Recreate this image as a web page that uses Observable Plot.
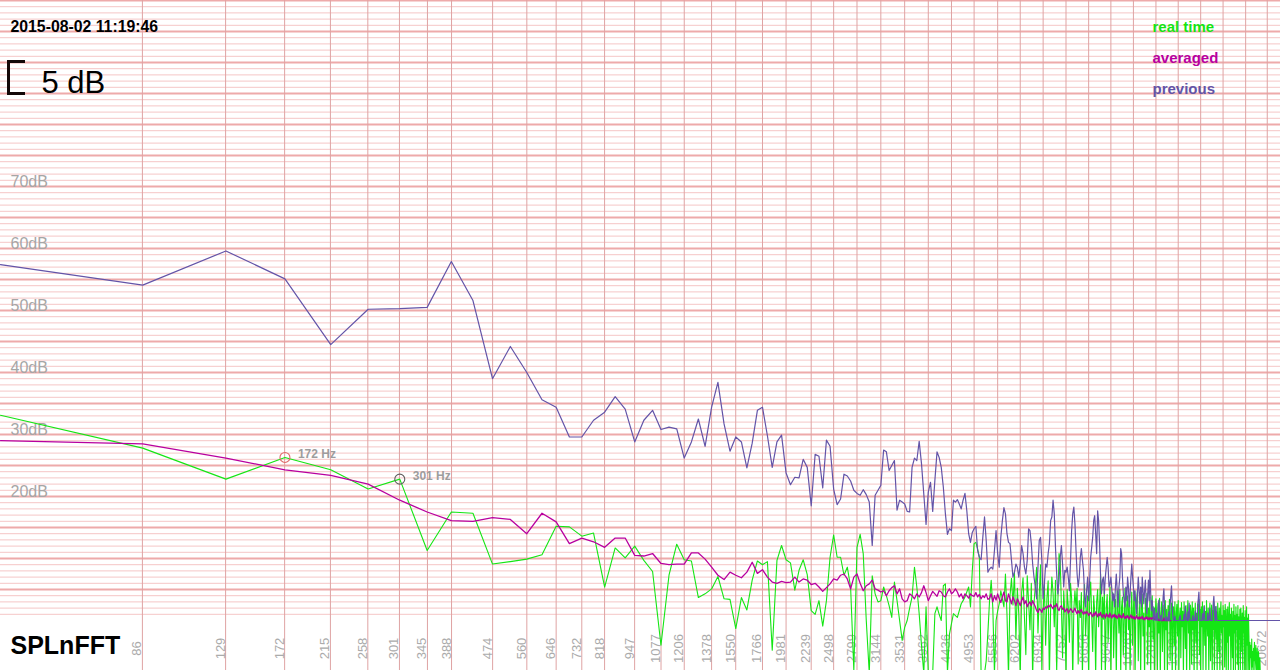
<!DOCTYPE html>
<html>
<head>
<meta charset="utf-8">
<script src="https://cdn.jsdelivr.net/npm/d3@7"></script>
<script src="https://cdn.jsdelivr.net/npm/@observablehq/plot@0.6"></script>
<style>
  body { margin: 0; overflow: hidden; background: #fff; }
  #wrap { position: relative; width: 1280px; height: 670px; overflow: hidden; }
  #bracket { position: absolute; left: 7px; top: 60px; width: 18px; height: 35px; box-sizing: border-box;
             border: 3.5px solid #140808; border-right: none; z-index: 2; }
</style>
</head>
<body>
<div id="wrap"><div id="bracket"></div></div>
<script>
// FFT bin width (44.1 kHz, 1024-point FFT); arrays below hold one value per bin, starting at bin 1
const binHz = 44100 / 1024;

// frequency tick labels (Hz)
const freqTicks = [86, 129, 172, 215, 258, 301, 345, 388, 474, 560, 646, 732, 818, 947, 1077, 1206, 1378, 1550,
  1766, 1981, 2239, 2498, 2799, 3144, 3531, 3962, 4436, 4953, 5556, 6202, 6934, 7752, 8656, 9647, 10767,
  12016, 13394, 14944, 16667, 18605, 20672];

// dB labels
const dbLabels = [20, 30, 40, 50, 60, 70];

// series names / colours
const seriesNames = ["real time", "averaged", "previous"];
const seriesColors = ["#14e614", "#b8009f", "#6354a8"];

// "previous" spectrum (dB), bins 1..511
const previous = [
  57.4, 54.1, 59.6, 55.1, 44.5, 50.2, 50.3, 50.5, 57.9, 51.6,
  39.0, 44.2, 40.0, 35.6, 34.4, 29.6, 29.6, 32.3, 33.6, 36.1,
  34.1, 28.8, 32.3, 33.9, 30.8, 31.2, 30.9, 26.2, 28.8, 32.5,
  28.1, 34.4, 38.4, 31.7, 27.3, 29.6, 28.8, 24.6, 28.6, 33.9,
  34.4, 29.8, 24.7, 28.8, 29.9, 23.8, 21.9, 23.1, 23.0, 26.0,
  24.7, 18.5, 26.8, 26.5, 21.4, 29.1, 28.1, 21.2, 18.7, 19.6,
  23.6, 23.3, 22.5, 21.0, 20.5, 20.2, 21.1, 20.3, 19.1, 12.1,
  20.2, 21.0, 21.8, 27.5, 27.2, 24.2, 25.0, 25.8, 17.8, 19.4,
  19.1, 18.8, 17.6, 17.5, 24.7, 26.2, 25.8, 28.9, 25.3, 20.4,
  15.5, 20.7, 22.3, 17.6, 22.6, 27.2, 26.3, 24.7, 21.5, 17.2,
  13.9, 14.8, 14.5, 19.4, 19.1, 19.5, 18.8, 18.0, 19.4, 20.5,
  17.7, 14.0, 12.6, 14.2, 14.8, 15.2, 11.3, 10.2, 9.8, 13.4,
  16.7, 12.9, 7.8, 8.3, 8.6, 8.3, 11.3, 14.5, 10.8, 8.6,
  13.4, 16.1, 18.2, 17.2, 14.0, 12.6, 12.4, 9.7, 7.0, 7.8,
  9.1, 8.6, 7.0, 9.1, 12.1, 10.8, 8.6, 7.5, 9.7, 14.8,
  14.5, 12.4, 9.1, 7.0, 5.4, 3.5, 8.6, 12.9, 13.4, 9.7,
  3.5, 5.9, 9.1, 8.6, 10.8, 12.4, 16.1, 16.7, 19.4, 17.2,
  11.8, 7.5, 4.3, 6.5, 10.2, 12.1, 9.1, 5.4, 8.1, 7.8,
  8.6, 7.0, 4.8, 9.7, 14.5, 17.2, 18.3, 15.6, 11.3, 7.5,
  5.4, 7.0, 10.2, 11.6, 9.7, 8.1, 4.3, 2.2, 4.8, 7.0,
  3.2, 6.5, 10.2, 11.8, 13.4, 16.1, 16.9, 14.0, 10.8, 17.7,
  16.1, 12.4, 7.3, 4.3, 6.5, 7.0, 4.3, 7.0, 8.6, 10.2,
  8.6, 5.4, 5.9, 7.0, 5.1, 3.2, 4.3, 2.2, 5.4, 7.5,
  4.8, 2.2, 5.4, 7.0, 11.6, 10.8, 7.0, 4.3, 3.2, 2.2,
  5.4, 3.2, 7.0, 5.4, 2.2, 4.3, 7.0, 9.1, 7.0, 5.4,
  3.2, 4.8, 2.2, 1.1, 4.3, 7.0, 4.8, 2.7, 5.4, 2.2,
  7.0, 4.8, 2.7, 4.8, 6.5, 3.2, 1.1, 4.3, 6.5, 3.2,
  8.1, 4.3, 1.6, 3.2, 1.5, 0, 2.0, 0.5, 0, 1.2,
  0, 2.1, 3.3, 1.0, 0, 0.8, 0, 1.5, 3.8, 5.1,
  2.0, 0, 0, 0.6, 0, 0, 1.4, 0, 2.5, 4.2,
  5.6, 3.0, 0.5, 0, 0, 0.7, 0, 0, 0, 0,
  0, 0, 0.4, 0.8, 0, 0, 0, 0, 0, 1.0,
  0, 2.3, 0.5, 0, 0, 1.4, 0, 2.8, 0.6, 0,
  0, 0, 0, 0.8, 0, 0, 0, 1.5, 0, 0.4,
  0, 2.6, 3.5, 4.6, 2.0, 0, 0, 0, 0, 1.1,
  0, 0.6, 2.3, 0, 0, 0, 0, 0, 1.2, 0,
  0, 0.8, 2.0, 0, 0, 0, 0, 1.6, 2.9, 3.9,
  2.0, 0, 0, 2.3, 0.5, 0, 0, 0, 0, 0,
  0, 0, 0, 0, 0, 0, 0, 0, 0, 0,
  0, 0, 0, 0, 0, 0, 0, 0, 0, 0,
  0, 0, 0, 0, 0, 0, 0, 0, 0, 0,
  0, 0, 0, 0, 0, 0, 0, 0, 0, 0,
  0, 0, 0, 0, 0, 0, 0, 0, 0, 0,
  0, 0, 0, 0, 0, 0, 0, 0, 0, 0,
  0, 0, 0, 0, 0, 0, 0, 0, 0, 0,
  0, 0, 0, 0, 0, 0, 0, 0, 0, 0,
  0, 0, 0, 0, 0, 0, 0, 0, 0, 0,
  0, 0, 0, 0, 0, 0, 0, 0, 0, 0,
  0, 0, 0, 0, 0, 0, 0, 0, 0, 0,
  0, 0, 0, 0, 0, 0, 0, 0, 0, 0,
  0, 0, 0, 0, 0, 0, 0, 0, 0, 0,
  0
];

// "averaged" spectrum (dB), bins 1..300
const averaged = [
  29.0, 28.5, 26.2, 24.3, 23.4, 22.0, 19.4, 17.5, 16.1, 16.0,
  16.6, 16.3, 14.0, 17.3, 15.9, 12.4, 13.3, 12.7, 11.8, 13.3,
  13.3, 10.5, 10.4, 10.8, 9.2, 9.0, 9.1, 9.1, 10.9, 10.9,
  9.9, 8.6, 7.3, 6.6, 7.8, 7.3, 6.9, 7.8, 9.4, 7.6,
  8.2, 7.0, 6.2, 6.0, 6.3, 6.1, 6.2, 7.0, 6.2, 6.7,
  6.5, 5.8, 6.0, 5.4, 4.7, 5.3, 5.9, 6.7, 6.5, 7.3,
  7.5, 6.7, 5.1, 7.0, 7.5, 6.0, 4.8, 5.6, 5.9, 6.5,
  5.1, 4.9, 4.6, 4.8, 4.0, 4.8, 5.3, 5.6, 4.3, 5.1,
  3.5, 3.0, 3.2, 4.3, 4.0, 3.5, 4.3, 3.8, 4.5, 5.6,
  4.5, 3.2, 4.0, 4.7, 4.3, 3.9, 4.8, 4.6, 4.0, 3.8,
  4.6, 5.1, 4.3, 4.6, 5.1, 4.6, 3.8, 4.3, 3.5, 4.3,
  4.0, 3.6, 4.3, 4.0, 3.9, 4.5, 3.8, 4.2, 3.5, 4.0,
  3.7, 4.3, 3.4, 3.6, 4.3, 3.0, 4.0, 3.3, 4.3, 3.5,
  2.9, 3.8, 4.6, 3.2, 3.0, 4.3, 3.5, 2.7, 3.8, 3.2,
  2.4, 3.5, 3.0, 2.4, 3.2, 3.8, 2.7, 3.2, 2.2, 2.7,
  3.0, 2.4, 3.2, 2.7, 2.2, 1.6, 1.3, 1.9, 1.7, 1.3,
  2.0, 1.8, 2.2, 2.0, 2.4, 2.2, 2.6, 2.2, 1.9, 2.4,
  2.2, 2.7, 1.9, 1.6, 2.2, 2.4, 1.8, 2.0, 1.4, 1.7,
  1.9, 1.2, 1.5, 1.9, 1.7, 1.3, 1.6, 2.0, 1.4, 1.1,
  1.6, 1.2, 1.5, 1.8, 1.3, 1.0, 1.4, 1.1, 1.5, 1.2,
  0.8, 1.1, 1.3, 0.9, 0.6, 1.2, 0.8, 1.4, 1.0, 0.6,
  1.1, 0.8, 1.3, 0.7, 0.5, 1.0, 0.8, 0.4, 1.1, 0.7,
  0.9, 0.5, 1.2, 0.7, 0.4, 0.9, 0.6, 1.0, 0.5, 0.8,
  0.3, 0.7, 1.0, 0.5, 0.8, 0.4, 0.6, 1.1, 0.5, 0.3,
  0.7, 0.4, 0.8, 0.5, 0.2, 0.6, 0.9, 0.4, 0.7, 0.3,
  0.6, 0.2, 0.5, 0.8, 0.3, 0.5, 0.2, 0.6, 0.3, 0.4,
  0.7, 0.2, 0.4, 0.1, 0.5, 0.3, 0.6, 0.2, 0.4, 0.1,
  0.5, 0.3, 0.2, 0.5, 0.3, 0.6, 0.2, 0.4, 0.1, 0.3,
  0.5, 0.2, 0, 0, 0.3, 0, 0, 0, 0, 0.4,
  0, 0, 0, 0, 0, 0, 0, 0, 0, 0
];

// "real time" spectrum (dB), bins 1..511 (values below the frame run off the bottom)
const realTime = [
  33.1, 27.8, 22.8, 26.3, 24.3, 21.2, 22.8, 11.3, 17.5, 17.3,
  9.1, 9.5, 9.9, 10.6, 15.2, 15.1, 13.6, 14.1, 5.4, 11.7,
  10.1, 12.0, 9.7, 7.9, -4.0, 7.3, 12.3, 9.8, 9.6, 3.7,
  4.3, 5.1, 7.1, 3.5, 3.4, -1.3, 3.7, 1.7, 6.5, 9.6,
  9.0, 9.5, -4.8, 9.7, 12.1, 9.8, 9.3, 4.9, 8.1, 9.8,
  7.4, 1.6, 1.0, 3.2, -0.9, 3.2, 10.2, 13.8, 10.2, 10.2,
  7.3, 8.6, 5.4, -8.0, 11.8, 13.9, 10.8, 0.0, -8.5, 7.2,
  4.3, 3.0, 3.2, 5.4, 4.0, 2.4, 0.5, 6.2, 3.2, 0.0,
  -3.2, -1.1, 0.0, 2.0, 3.8, 8.6, 5.4, 1.1, -4.0, -8.5,
  2.2, -8.5, -9.0, -8.5, 1.1, 2.2, 1.0, 0.0, 5.6, 5.9,
  -8.5, -2.2, -0.5, 1.1, 0.8, 0.5, 1.6, 2.7, 3.2, 3.8,
  4.6, 5.4, 2.2, 8.0, 12.4, 12.6, 11.5, 10.2, -8.5, -9.0,
  -8.5, -6.5, -2.0, 3.2, 6.5, 2.0, -8.5, 0.0, 1.5, 2.7,
  4.8, 3.5, 2.2, 7.5, 1.0, -9.0, 4.0, 6.8, 2.5, 7.8,
  -3.0, 5.2, 1.0, -9.0, 4.5, 6.9, 0.5, -5.5, 7.2, 3.0,
  -1.5, 6.0, -9.5, 2.8, 5.5, 8.6, -2.0, 4.2, 9.0, -8.0,
  1.5, 5.8, -4.0, 3.6, 6.4, -9.5, 2.0, 7.0, 4.4, -1.0,
  6.5, -8.5, 3.0, 10.8, 9.5, 2.5, -6.0, 4.8, 1.2, -9.0,
  5.0, 2.2, -3.5, 6.0, 3.5, -9.5, 1.8, 4.8, 2.0, 5.2,
  -7.0, 3.2, 0.5, 4.5, -9.0, 2.6, 5.8, -2.5, 1.4, 4.0,
  -9.5, 3.5, 6.2, 0.8, -5.0, 4.0, 1.5, -9.0, 3.0, 5.0,
  -1.0, 2.4, 7.5, -8.5, 3.8, 0.2, 5.5, -9.5, 2.0, 4.2,
  -3.5, 1.0, 5.4, -9.0, 2.8, 4.5, -6.0, 0.5, 3.4, -9.5,
  4.8, 1.6, -2.0, 5.0, -9.0, 2.2, 3.8, -5.5, 0.8, 5.2,
  -9.5, 2.5, 4.0, -1.5, 3.2, -9.0, 1.0, 4.6, -4.0, 2.0,
  4.8, -9.5, 1.5, 3.5, 5.0, -6.5, 0.5, 3.0, -9.0, 2.6,
  4.2, -2.5, 1.2, -9.5, 3.6, 0.4, 4.4, -7.0, 2.0, -1.0,
  3.8, -9.0, 1.5, 4.0, -3.0, 2.2, -9.5, 0.8, 3.5, 1.0,
  -8.0, 2.8, -2.0, 3.6, -9.5, 1.2, 3.0, -5.0, 0.5, 2.5,
  -9.0, 3.2, -1.5, 1.8, -9.5, 2.4, 0.0, 3.4, -6.5, 1.0,
  2.8, -9.5, 0.5, 2.2, -4.0, 3.0, -9.0, 1.2, 2.6, -2.5,
  3.2, -9.5, 0.8, 2.0, -6.0, 2.9, -1.0, 1.5, -9.0, 3.0,
  0.2, -4.5, 2.4, -9.5, 1.0, 3.2, -2.0, 0.6, -9.0, 2.5,
  1.5, -7.0, 3.0, -1.5, 2.0, -9.5, 0.5, 2.8, -3.5, 1.2,
  -9.0, 2.6, 0.0, 3.4, -5.5, 1.8, -9.5, 2.2, -1.0, 3.0,
  -8.0, 0.8, 2.4, -4.0, 1.5, -9.5, 3.2, 0.4, -2.5, 2.0,
  -9.0, 1.0, 2.8, -6.5, 0.2, 2.5, -9.5, 1.6, -1.5, 3.0,
  -9.0, 0.6, 2.2, -3.0, 1.4, -9.5, 2.8, 0.0, -5.0, 2.0,
  -9.0, 1.2, 3.0, -2.0, 0.8, -9.5, 2.4, -1.0, 1.6, -7.5,
  2.6, 0.2, -9.0, 1.8, -3.5, 2.2, -9.5, 0.5, 2.9, -2.5,
  1.0, -9.0, 2.0, -0.5, -6.0, 1.5, -9.5, 2.6, -2.0, 0.8,
  -9.0, 2.2, -1.5, 1.0, -7.0, 2.4, -9.5, 0.6, -3.0, 1.8,
  -9.0, 2.0, -0.5, -5.0, 1.2, -9.5, 2.4, -2.0, 0.5, -8.0,
  1.6, -1.0, -9.5, 2.2, -4.0, 0.4, -9.0, 1.0, -2.5, -8.5,
  -3.5, -6.0, -4.0, -8.0, -3.0, -7.5, -5.0, -9.0, -4.5, -6.5,
  -3.5, -8.0, -5.5, -4.0, -7.0, -9.0, -4.5, -6.0, -8.5, -5.0,
  -7.0, -9.0, -6.0, -8.5, -12, -14, -15, -14, -16, -15,
  -16, -15, -17, -16, -15, -17, -16, -18, -17, -16,
  -18, -17, -16, -18, -17, -19, -18, -17, -18, -19,
  -18, -19, -20, -18, -19, -20, -19, -21, -20, -19,
  -21, -20, -22, -21, -20, -22, -21, -23, -22, -21, -23
];

// highlighted peaks (bin numbers) and their labels
const markerBins = [4, 7];
const markerLabels = ["172 Hz", "301 Hz"];
const markerColors = ["#e06a6a", "#606060"];

const toRows = (vals, name) => vals.map((v, i) => ({ f: (i + 1) * binHz, db: v, series: name }));
const rtRows = toRows(realTime, "real time");
const avRows = toRows(averaged, "averaged");
const pvRows = toRows(previous, "previous");

const gridLevels = d3.range(1, 101);
const thinLevels = gridLevels.filter(d => d % 5 !== 0);
const thickLevels = gridLevels.filter(d => d % 5 === 0);

const markers = markerBins.map((b, i) => ({ f: b * binHz, db: realTime[b - 1], label: markerLabels[i], color: markerColors[i] }));
const legendRows = seriesNames.map((n, i) => ({ name: n, color: seriesColors[i], y: [95, 90, 85][i] }));

const font = "'Liberation Sans', Arial, Helvetica, sans-serif";

const chart = Plot.plot({
  width: 1280,
  height: 670,
  margin: 0,
  style: { fontFamily: font, background: "white", overflow: "hidden" },
  x: { type: "log", domain: [binHz, 22050], range: [0, 1280], axis: null },
  y: { domain: [0, 100], range: [620, 0], axis: null },
  marks: [
    Plot.ruleY(thinLevels, { stroke: "#f5c6c6", strokeWidth: 1 }),
    Plot.ruleY(thickLevels, { stroke: "#eeaaaa", strokeWidth: 1.8 }),
    Plot.ruleX(freqTicks, { stroke: "#dfa3a3", strokeWidth: 1 }),
    Plot.text(freqTicks, { x: d => d, text: d => String(d), frameAnchor: "bottom", dy: -22, dx: -1,
      rotate: -90, textAnchor: "middle", lineAnchor: "bottom", fill: "#ababab", fontSize: 13 }),
    Plot.text(dbLabels, { y: d => d, text: d => d + "dB", frameAnchor: "left", dx: 10, textAnchor: "start",
      lineAnchor: "bottom", fill: "#a6a6a6", fontSize: 16 }),
    Plot.line(rtRows, { x: "f", y: "db", stroke: seriesColors[0], strokeWidth: 1.1, clip: true }),
    Plot.line(avRows, { x: "f", y: "db", stroke: seriesColors[1], strokeWidth: 1.3, clip: true }),
    Plot.line(pvRows, { x: "f", y: "db", stroke: seriesColors[2], strokeWidth: 1.2, clip: true }),
    Plot.dot(markers, { x: "f", y: "db", r: 5, stroke: "color", fill: "none", strokeWidth: 1.1 }),
    Plot.text(markers, { x: "f", y: "db", text: "label", dx: 13, dy: 1, textAnchor: "start", lineAnchor: "bottom",
      fill: "#9d9d9d", fontSize: 12, fontWeight: "bold" }),
    Plot.text(legendRows, { y: "y", text: "name", fill: "color", frameAnchor: "left", dx: 1152, textAnchor: "start",
      lineAnchor: "bottom", fontSize: 15, fontWeight: "bold" }),
    Plot.text(["2015-08-02 11:19:46"], { text: d => d, frameAnchor: "top-left", dx: 10, dy: 31, textAnchor: "start",
      lineAnchor: "bottom", fontSize: 15.8, fontWeight: "bold", fill: "#000" }),
    Plot.text(["5 dB"], { text: d => d, frameAnchor: "top-left", dx: 41, dy: 92, textAnchor: "start",
      lineAnchor: "bottom", fontSize: 31, fill: "#000" }),
    Plot.text(["SPLnFFT"], { text: d => d, frameAnchor: "bottom-left", dx: 10, dy: -17, textAnchor: "start",
      lineAnchor: "bottom", fontSize: 25, fontWeight: "bold", fill: "#000" })
  ]
});

document.getElementById("wrap").prepend(chart);
</script>
</body>
</html>
